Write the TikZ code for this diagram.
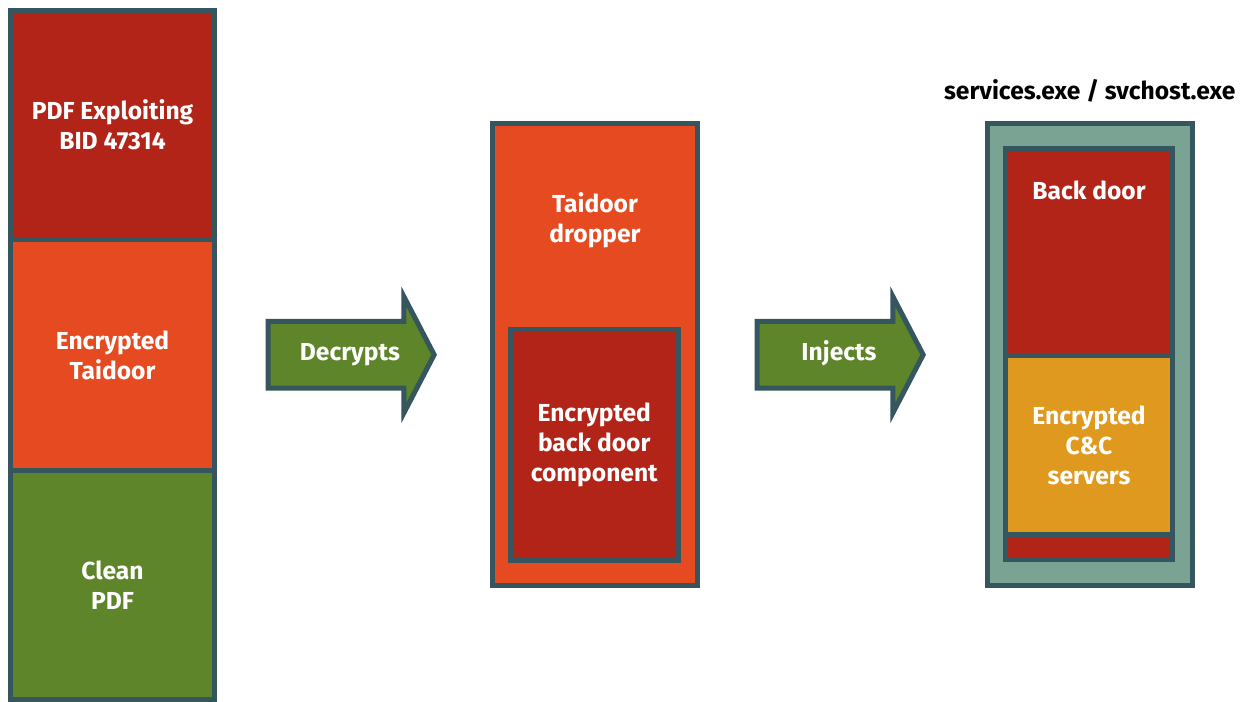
\documentclass[tikz,border=0pt]{standalone}
\usepackage{fontspec}
\setmainfont{Fira Sans}
\usetikzlibrary{shapes,arrows,positioning,calc}

\definecolor{edge}{HTML}{35565E}
\definecolor{darkred}{HTML}{B22418}
\definecolor{orangered}{HTML}{E64A21}
\definecolor{leaf}{HTML}{5E8529}
\definecolor{sage}{HTML}{7BA394}
\definecolor{amber}{HTML}{E0991F}

\begin{document}
\begin{tikzpicture}[node distance=0cm, auto]
    % Define styles
    \tikzstyle{part} = [rectangle, draw=edge, line width=0.1cm, inner sep=0pt, outer sep=0pt, text=white, align=center, font=\fontsize{14}{17}\selectfont\bfseries]
    \tikzstyle{boxtext} = [text=white, align=center, font=\fontsize{14}{17}\selectfont\bfseries]
    \tikzstyle{action} = [single arrow, draw=edge, fill=leaf, line width=0.1cm, minimum height=3.32cm, single arrow head extend=0.5cm, single arrow tip angle=125, single arrow head indent=0cm, inner xsep=0pt, inner ysep=0.395cm, text height=0.34cm, text depth=0.1cm, text=white, font=\fontsize{14}{17}\selectfont\bfseries]
    \useasboundingbox (0,0) rectangle (24.92,-14.04);

    % Nodes
    \node [part, fill=darkred, minimum width=4.08cm, minimum height=4.58cm] (exploit) at (2.25,-2.5) {PDF Exploiting\\BID 47314};
    \node [part, fill=orangered, minimum width=4.08cm, minimum height=4.62cm, below=of exploit] (encrypted) {Encrypted\\Taidoor};
    \node [part, fill=leaf, minimum width=4.08cm, minimum height=4.57cm, below=of encrypted] (clean) {Clean\\PDF};

    \node [action] (decrypts) at (6.85,-7.095) {\hspace*{0.3cm}Decrypts};

    \node [part, fill=orangered, minimum width=4.1cm, minimum height=9.22cm] (dropper) at (11.9,-7.09) {};
    \node [boxtext] (droppername) at ($(dropper.north)+(0,-1.92)$) {Taidoor\\dropper};
    \node [part, fill=darkred, minimum width=3.35cm, minimum height=4.62cm] (payload) at (11.885,-8.9) {Encrypted\\back door\\component};

    \node [action] (injects) at (16.63,-7.095) {\hspace*{0.3cm}Injects};

    \node [part, fill=sage, minimum width=4.11cm, minimum height=9.23cm] (host) at (21.795,-7.095) {};
    \node [boxtext, text=black] (hostname) at ($(host.north)+(0,0.66)$) {services.exe / svchost.exe};
    \node [part, fill=darkred, minimum width=3.34cm, minimum height=4.14cm] (backdoor) at (21.78,-5.05) {};
    \node [boxtext] (backdoorname) at ($(backdoor.north)+(0,-0.82)$) {Back door};
    \node [part, fill=amber, minimum width=3.34cm, minimum height=3.57cm, below=of backdoor] (servers) {Encrypted\\C\&C\\servers};
    \node [part, fill=darkred, minimum width=3.34cm, minimum height=0.5cm, below=of servers] (tail) {};
\end{tikzpicture}
\end{document}
